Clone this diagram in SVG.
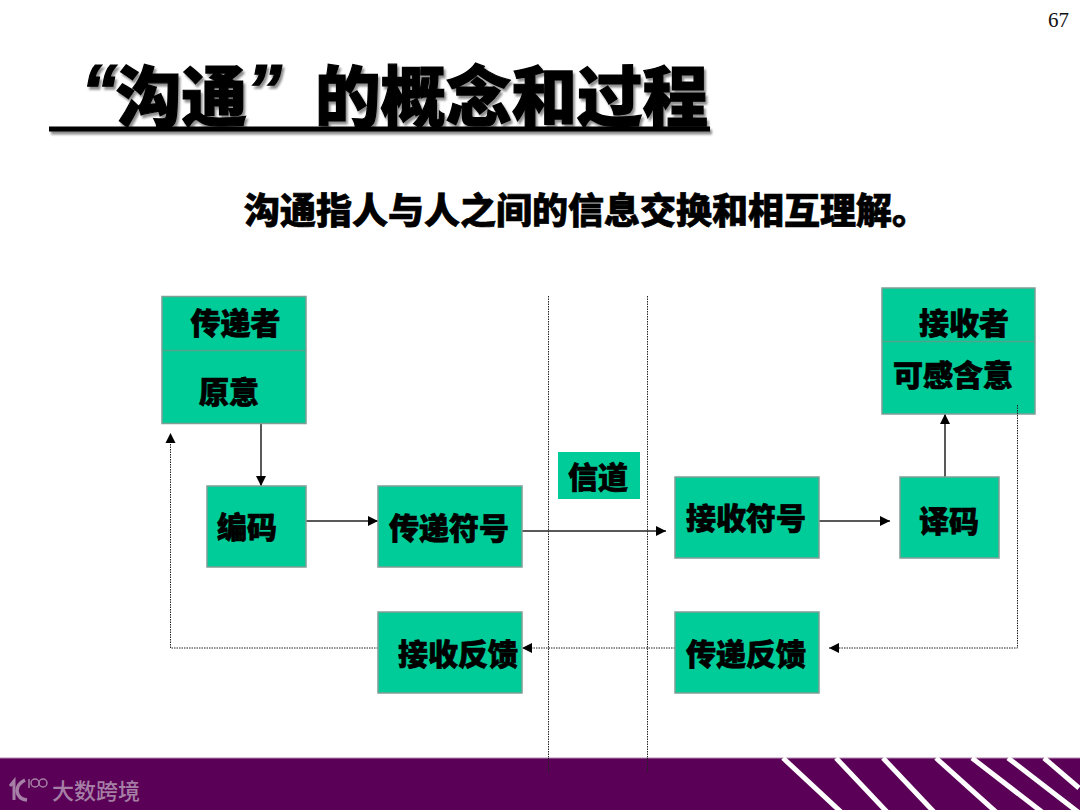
<svg xmlns="http://www.w3.org/2000/svg" width="1080" height="810" viewBox="0 0 1080 810">
<style>
.cn{font-family:"Noto Sans CJK SC","Liberation Sans",sans-serif;font-weight:900;fill:#000;stroke:#000;stroke-width:.7}
.t{font-size:30px;text-anchor:middle;dominant-baseline:central}
.q{font-family:"Liberation Sans",sans-serif;font-weight:700;font-style:italic}
.box{fill:#00cc99;stroke:#7f9f95;stroke-width:1.5}
.div{stroke:#4fa58c;stroke-width:1.5;fill:none}
.solid{stroke:#222;stroke-width:1.5;fill:none}
.dot{stroke:#222;stroke-width:1;stroke-dasharray:1.5 1;fill:none}
.head{fill:#000}
.stripe{stroke:#fff;stroke-width:5;fill:none}
</style>
<defs>
<marker id="arr" viewBox="0 0 10 10" refX="10" refY="5" markerWidth="10" markerHeight="14" markerUnits="userSpaceOnUse" orient="auto"><path d="M0 0L10 5L0 10Z" class="head"/></marker>
<filter id="sh" x="-5%" y="-10%" width="110%" height="125%"><feDropShadow dx="2" dy="3" stdDeviation="1.200" flood-color="#000" flood-opacity=".45"/></filter>
</defs>
<rect width="1080" height="810" fill="#fff"/>
<text x="1048" y="27" font-family="Liberation Serif,serif" font-size="21" fill="#111">67</text>

<g id="title" filter="url(#sh)">
<rect x="49" y="126.500" width="661" height="5" fill="#000"/>
<text class="cn" font-size="65.500" y="121" style="stroke-width:1.200"><tspan x="81" y="115" class="q" font-size="72">“</tspan><tspan x="116" y="121">沟通</tspan><tspan x="246" y="115" class="q" font-size="72">”</tspan><tspan x="315" y="121">的概念和过程</tspan></text>
</g>
<text id="subtitle" class="cn" x="244" y="224" font-size="36">沟通指人与人之间的信息交换和相互理解。</text>

<g id="connectors">
<path class="dot" d="M548.500 296V772"/>
<path class="dot" d="M647.500 296V772"/>
<path class="solid" d="M261 423V486" marker-end="url(#arr)"/>
<path class="solid" d="M306 521H378" marker-end="url(#arr)"/>
<path class="solid" d="M522 531H666" marker-end="url(#arr)"/>
<path class="solid" d="M819 521H890" marker-end="url(#arr)"/>
<path class="solid" d="M945 477V414" marker-end="url(#arr)"/>
<path class="dot" d="M378 648H170.500V433" marker-end="url(#arr)"/>
<path class="dot" d="M675 648H522" marker-end="url(#arr)"/>
<path class="dot" d="M1017.500 405V648H829" marker-end="url(#arr)"/>
</g>

<g id="sender">
<rect class="box" x="162" y="296.500" width="144" height="127"/>
<path class="div" d="M162 350.500H306"/>
<text class="cn t" x="235.500" y="321">传递者</text>
<text class="cn t" x="229" y="390">原意</text>
</g>
<g id="encode">
<rect class="box" x="207" y="486" width="99" height="81"/>
<text class="cn t" x="247" y="525">编码</text>
</g>
<g id="send-symbol">
<rect class="box" x="378" y="486" width="144" height="81"/>
<text class="cn t" x="449" y="526">传递符号</text>
</g>
<g id="channel">
<rect x="558" y="452" width="82" height="47" fill="#00cc99"/>
<text class="cn t" x="598" y="475">信道</text>
</g>
<g id="receive-symbol">
<rect class="box" x="675" y="477" width="144" height="81"/>
<text class="cn t" x="746" y="516">接收符号</text>
</g>
<g id="decode">
<rect class="box" x="900" y="477" width="99" height="81"/>
<text class="cn t" x="949" y="519">译码</text>
</g>
<g id="receiver">
<rect class="box" x="882" y="288" width="153" height="126"/>
<path class="div" d="M882 341.500H1035"/>
<text class="cn t" x="964" y="321">接收者</text>
<text class="cn t" x="953" y="373">可感含意</text>
<path class="dot" d="M1017.500 405V414"/>
</g>
<g id="receive-feedback">
<rect class="box" x="378" y="612" width="144" height="81"/>
<text class="cn t" x="458" y="652">接收反馈</text>
</g>
<g id="send-feedback">
<rect class="box" x="675" y="612" width="144" height="81"/>
<text class="cn t" x="746" y="652">传递反馈</text>
</g>

<g id="banner">
<rect x="0" y="758" width="1080" height="52" fill="#5a0056"/>
<rect x="0" y="757.500" width="1080" height="1" fill="#b58ab3"/>
<path class="dot" d="M548.500 758V772"/>
<path class="dot" d="M647.500 758V772"/>
<g class="stripe">
<path d="M783 758L841 812"/>
<path d="M836 758L887 812"/>
<path d="M883 758L934 812"/>
<path d="M936 758L996 812"/>
<path d="M972 758L1042 812"/>
<path d="M1008 758L1078 812"/>
<path d="M1044 758L1079 788"/>
</g>
<g fill="none" stroke="#a57fa5" stroke-width="2.500">
<path d="M10 786L14 781V800" stroke-width="3"/>
<path d="M25 780Q17 784 17 791Q18 799 27 800" stroke-width="3.500"/>
<path d="M29 779V788" stroke-width="1.500"/>
<circle cx="35" cy="783" r="4" stroke-width="1.500"/>
<circle cx="43" cy="783" r="4" stroke-width="1.500"/>
</g>
<text x="52" y="799" font-family="Noto Sans CJK SC,sans-serif" font-size="22" font-weight="500" fill="#a57fa5">大数跨境</text>
</g>
</svg>
